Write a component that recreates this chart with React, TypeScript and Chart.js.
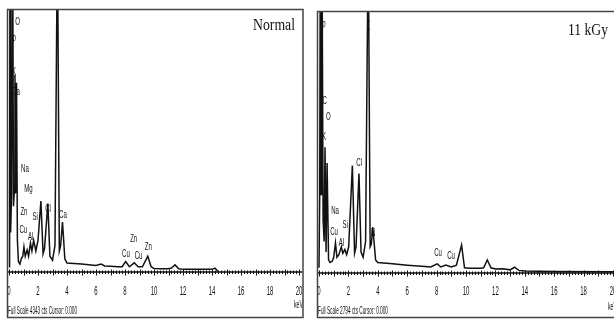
import { useEffect, useRef } from "react";
import { Chart, registerables } from "chart.js";
Chart.register(...registerables);

// ---- data: Normal sample spectrum (keV, counts in % of full scale) ----
const normalEnergy = [0, 0.04, 0.07, 0.11, 0.18, 0.25, 0.31, 0.36, 0.41, 0.46, 0.52, 0.58, 0.65, 0.75, 0.85, 0.95, 1.03, 1.12, 1.25, 1.35, 1.48, 1.58, 1.7, 1.85, 2.0, 2.2, 2.35, 2.45, 2.68, 2.82, 3.0, 3.17, 3.34, 3.47, 3.56, 3.69, 3.85, 4.0, 4.5, 5.0, 5.5, 6.0, 6.35, 6.6, 7.0, 7.5, 7.8, 8.05, 8.3, 8.64, 8.9, 9.2, 9.57, 9.8, 10.0, 10.5, 11.0, 11.2, 11.45, 11.7, 12.0, 13.0, 14.0, 14.2, 14.4];
const normalCounts = [2, 20, 130, 15, 30, 130, 25, 30, 75, 30, 72, 12, 4, 3, 5, 6, 9.5, 6, 8.4, 6, 11, 8, 12, 8, 12, 27, 7, 9, 26, 6, 4.5, 10, 130, 8, 10, 19, 5, 3.4, 3.2, 3, 2.8, 2.5, 3, 2.3, 2.2, 2, 2, 4, 2, 3.5, 2, 2, 6, 2, 1.3, 1.2, 1.2, 1.5, 2.7, 1.2, 1, 1, 1, 1.5, 0.3];

// ---- data: 11 kGy sample spectrum ----
const irradEnergy = [0, 0.05, 0.09, 0.14, 0.2, 0.28, 0.35, 0.41, 0.48, 0.55, 0.65, 0.75, 0.9, 1.0, 1.12, 1.22, 1.35, 1.52, 1.62, 1.76, 1.88, 2.02, 2.27, 2.42, 2.52, 2.72, 2.86, 3.0, 3.17, 3.35, 3.48, 3.56, 3.66, 3.85, 4.0, 5.0, 6.0, 7.0, 7.6, 8.04, 8.3, 8.63, 9.0, 9.35, 9.7, 9.9, 10.2, 11.0, 11.2, 11.45, 11.7, 12.0, 12.5, 13.0, 13.3, 13.6, 14.0, 16.0, 20.0];
const irradCounts = [2, 30, 130, 30, 130, 20, 12, 48, 8, 42, 5, 4, 4.5, 6, 11.5, 6, 7, 10, 7.5, 9, 7, 10, 41, 7.6, 10, 38, 8, 6, 12, 130, 10, 11, 17.5, 5, 4, 3.5, 3, 2.6, 2.3, 3.5, 2.3, 3, 2.3, 3, 10.7, 2, 1.8, 1.8, 2, 5, 2, 1.5, 1.6, 1.2, 2.2, 1, 0.8, 0.6, 0.5];

// ---- axis tick labels ----
const tickValues = [0, 2, 4, 6, 8, 10, 12, 14, 16, 18, 20];
const tickLabels = ["0", "2", "4", "6", "8", "10", "12", "14", "16", "18", "20"];

// ---- peak labels ----
const normalPeakText = ["p", "O", "K", "Ca", "(", "Na", "Mg", "Zn", "Cu", "Si", "Al", "Cl", "Ca", "Cu", "Zn", "Cu", "Zn"];
const normalPeakKeV = [0.36, 0.6, 0.35, 0.48, 3.31, 1.1, 1.34, 1.03, 0.99, 1.8, 1.5, 2.69, 3.72, 8.06, 8.6, 8.93, 9.6];
const normalPeakCounts = [89, 95, 76, 68.5, 94.7, 39, 31.6, 23, 16, 21, 13.3, 24, 21.7, 6.8, 12.5, 6, 9.5];

const irradPeakText = ["p", "(", "C", "O", "K", "Na", "Cu", "Al", "Si", "Cl", "N", "Cu", "Cu"];
const irradPeakKeV = [0.34, 3.38, 0.38, 0.63, 0.34, 1.09, 1.02, 1.52, 1.79, 2.73, 3.68, 8.1, 8.98];
const irradPeakCounts = [95, 94.6, 65.6, 59.5, 52, 23.7, 15.6, 11.4, 18.3, 42, 15.3, 7.6, 6.5];

const normalTitle = "Normal";
const irradTitle = "11 kGy";
const normalFooter = "Full Scale 4343 cts Cursor: 0.000";
const irradFooter = "Full Scale 2794 cts Cursor: 0.000";
const unitLabel = "keV";

type Panel = {
  energy: number[];
  counts: number[];
  peakText: string[];
  peakKeV: number[];
  peakCounts: number[];
  title: string;
  footer: string;
  canvasLeft: number;
  width: number;
  pad: { left: number; right: number; top: number; bottom: number };
  xMin: number;
  xMax: number;
  frame: [number, number, number, number];
  titleBox: [number, number, number];
  footerBox: [number, number, number];
  unitBox: [number, number, number];
};

function drawText(
  ctx: CanvasRenderingContext2D,
  text: string,
  x: number,
  y: number,
  font: string,
  width: number | null,
  scaleX: number,
  align: CanvasTextAlign
) {
  ctx.save();
  ctx.font = font;
  const w = ctx.measureText(text).width;
  const s = width ? width / w : scaleX;
  ctx.translate(x, y);
  ctx.scale(s, 1);
  ctx.textAlign = align;
  ctx.textBaseline = "middle";
  ctx.fillStyle = "#111";
  ctx.fillText(text, 0, 0);
  ctx.restore();
}

function SpectrumPanel({ p }: { p: Panel }) {
  const ref = useRef<HTMLCanvasElement | null>(null);
  useEffect(() => {
    if (!ref.current) return;
    const decor = {
      id: "edxDecor",
      afterDraw(chart: any) {
        const ctx = chart.ctx as CanvasRenderingContext2D;
        const xs = chart.scales.x;
        const ys = chart.scales.y;
        const a = chart.chartArea;
        ctx.save();
        // axis line
        ctx.strokeStyle = "#111";
        ctx.lineWidth = 1.5;
        ctx.beginPath();
        ctx.moveTo(a.left, a.bottom);
        ctx.lineTo(a.right, a.bottom);
        ctx.stroke();
        // minor / major ticks
        ctx.lineWidth = 1;
        for (let i = 0; i <= 100; i++) {
          const v = i * 0.2;
          const px = Math.round(xs.getPixelForValue(v)) + 0.5;
          const major = i % 5 === 0;
          ctx.beginPath();
          ctx.moveTo(px, a.bottom - (major ? 2.5 : 1.5));
          ctx.lineTo(px, a.bottom + (major ? 3.5 : 2));
          ctx.stroke();
        }
        // tick labels
        tickValues.forEach((v, i) => {
          drawText(ctx, tickLabels[i], xs.getPixelForValue(v), 292, "12px 'Liberation Sans Narrow', 'Liberation Sans', sans-serif", null, 0.5, "center");
        });
        // peak labels
        p.peakText.forEach((t, i) => {
          drawText(ctx, t, xs.getPixelForValue(p.peakKeV[i]), ys.getPixelForValue(p.peakCounts[i]), "11px 'Liberation Sans Narrow', 'Liberation Sans', sans-serif", null, 0.55, "center");
        });
        // title
        drawText(ctx, p.title, p.titleBox[0], p.titleBox[1], "17px 'Liberation Serif', serif", p.titleBox[2], 1, "left");
        // footer
        drawText(ctx, p.footer, p.footerBox[0], p.footerBox[1], "10px 'Liberation Sans Narrow', 'Liberation Sans', sans-serif", p.footerBox[2], 1, "left");
        drawText(ctx, unitLabel, p.unitBox[0], p.unitBox[1], "10px 'Liberation Sans Narrow', 'Liberation Sans', sans-serif", p.unitBox[2], 1, "left");
        // frame
        ctx.strokeStyle = "#444";
        ctx.lineWidth = 1.5;
        ctx.strokeRect(p.frame[0], p.frame[1], p.frame[2], p.frame[3]);
        ctx.restore();
      },
    };
    const chart = new Chart(ref.current, {
      type: "line",
      data: {
        datasets: [
          {
            data: p.energy.map((e, i) => ({ x: e, y: p.counts[i] })),
            borderColor: "#111",
            borderWidth: 1.5,
            pointRadius: 0,
            tension: 0,
            fill: false,
          },
        ],
      },
      options: {
        animation: false,
        responsive: false,
        maintainAspectRatio: false,
        layout: { padding: p.pad },
        plugins: { legend: { display: false }, tooltip: { enabled: false } },
        scales: {
          x: { type: "linear", min: p.xMin, max: p.xMax, display: false },
          y: { type: "linear", min: 0, max: 100, display: false },
        },
      },
      plugins: [decor],
    } as any);
    return () => chart.destroy();
  }, [p]);
  return (
    <canvas
      ref={ref}
      width={p.width}
      height={320}
      style={{ position: "absolute", left: p.canvasLeft, top: 0, width: p.width, height: 320 }}
    />
  );
}

const leftPanel: Panel = {
  energy: normalEnergy,
  counts: normalCounts,
  peakText: normalPeakText,
  peakKeV: normalPeakKeV,
  peakCounts: normalPeakCounts,
  title: normalTitle,
  footer: normalFooter,
  canvasLeft: 0,
  width: 307,
  pad: { left: 8, right: 4.5, top: 9, bottom: 48 },
  xMin: -0.069,
  xMax: 20.24,
  frame: [7.5, 9.5, 295.5, 308],
  titleBox: [253, 26, 42],
  footerBox: [8, 311, 69],
  unitBox: [294, 305, 9],
};

const rightPanel: Panel = {
  energy: irradEnergy,
  counts: irradCounts,
  peakText: irradPeakText,
  peakKeV: irradPeakKeV,
  peakCounts: irradPeakCounts,
  title: irradTitle,
  footer: irradFooter,
  canvasLeft: 307,
  width: 307,
  pad: { left: 11, right: 0, top: 11, bottom: 47 },
  xMin: -0.068,
  xMax: 20.07,
  frame: [10.5, 11.5, 310, 306],
  titleBox: [261, 31, 40],
  footerBox: [11, 311.5, 70],
  unitBox: [301, 307, 9],
};

export default function App() {
  return (
    <div style={{ position: "absolute", left: 0, top: 0, width: 614, height: 320, overflow: "hidden", background: "#fff" }}>
      <SpectrumPanel p={leftPanel} />
      <SpectrumPanel p={rightPanel} />
    </div>
  );
}
